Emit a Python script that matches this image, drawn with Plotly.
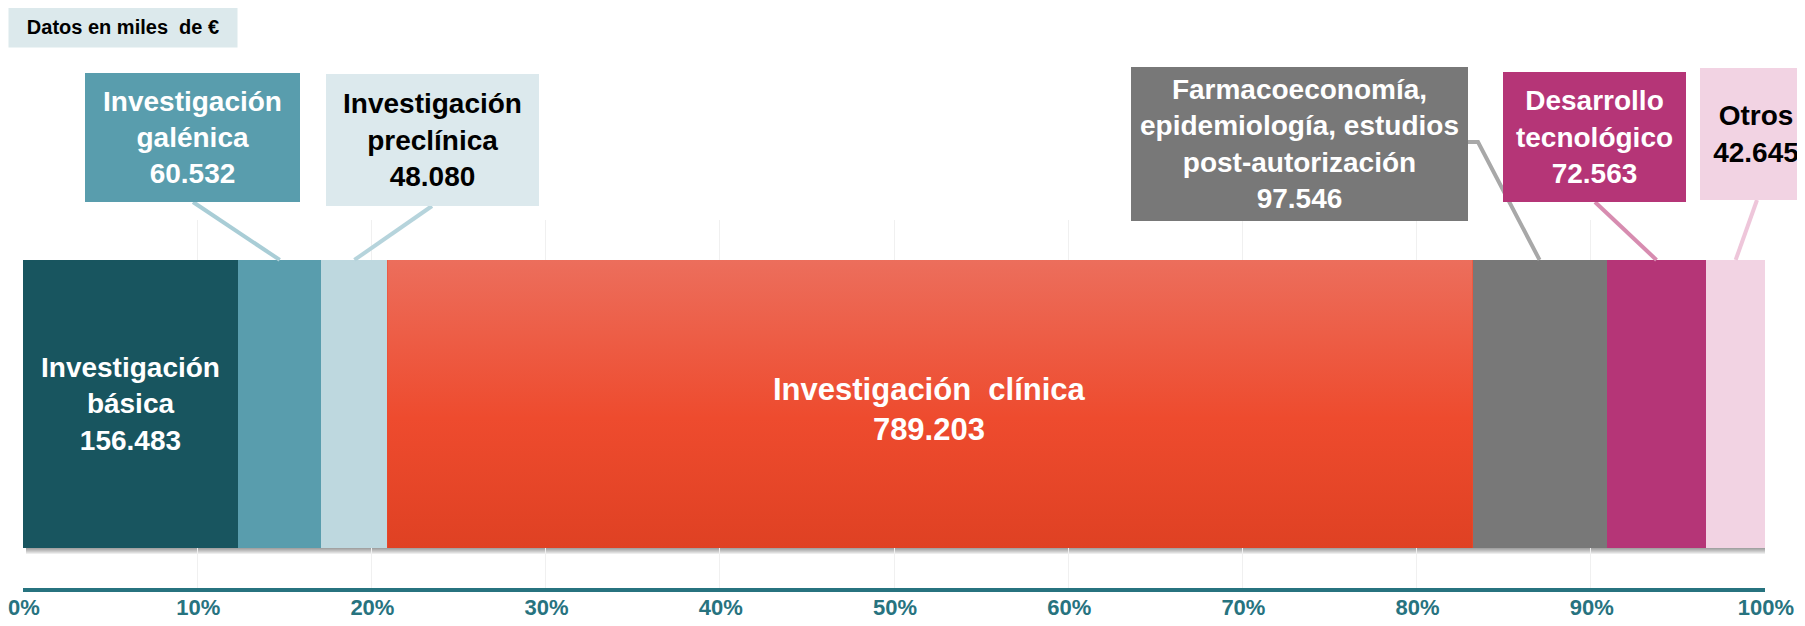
import plotly.graph_objects as go

# ---------------- data ----------------
categories = ["Investigación básica", "Investigación galénica", "Investigación preclínica",
              "Investigación clínica", "Farmacoeconomía, epidemiología, estudios post-autorización",
              "Desarrollo tecnológico", "Otros"]
values = [156483, 60532, 48080, 789203, 97546, 72563, 42645]
value_labels = ["156.483", "60.532", "48.080", "789.203", "97.546", "72.563", "42.645"]
label_lines = [["Investigación", "básica"],
               ["Investigación", "galénica"],
               ["Investigación", "preclínica"],
               ["Investigación\u00a0 clínica"],
               ["Farmacoeconomía,", "epidemiología, estudios", "post-autorización"],
               ["Desarrollo", "tecnológico"],
               ["Otros"]]
tick_vals = [0, 0.1, 0.2, 0.3, 0.4, 0.5, 0.6, 0.7, 0.8, 0.9, 1.0]
tick_text = ["0%", "10%", "20%", "30%", "40%", "50%", "60%", "70%", "80%", "90%", "100%"]

# ---------------- styles ----------------
colors = ["#18555F", "#599DAD", "#BED8DF", "#EB4A2D", "#787878", "#B53577", "#F2D3E3"]
line_colors = [None, "#A9CDD6", "#B6D4DC", None, "#A8A8A8", "#D78CB0", "#EEC6DA"]
box_colors = [None, "#599DAD", "#DCE9ED", None, "#787878", "#B53577", "#F2D3E3"]
text_colors = ["white", "white", "black", "white", "white", "white", "black"]
FONT = "Liberation Sans, Arial, sans-serif"
AXIS_COLOR = "#27737F"

# page (window) geometry; the page body has a default 8px margin
PAGE_W, PAGE_H = 1805, 626
OFF = 8
W, H = PAGE_W - OFF, PAGE_H - OFF
# plot area in page pixels
PX_L, PX_R, PX_T, PX_B = 23, 1765, 220, 588
ML, MR, MT, MB = PX_L - OFF, (W + OFF) - PX_R, PX_T - OFF, (H + OFF) - PX_B
PW = PX_R - PX_L
PH = PX_B - PX_T


def px_x(px):
    return (px - PX_L) / PW


def px_y(py):
    return (PX_B - py) / PH


total = sum(values)
shares = [v / total for v in values]
starts = []
acc = 0
for s in shares:
    starts.append(acc)
    acc += s
mids = [st + s / 2 for st, s in zip(starts, shares)]

BAR_Y = 0.5
BAR_W = 0.783
y_lo, y_hi = BAR_Y - BAR_W / 2, BAR_Y + BAR_W / 2

fig = go.Figure()
for i, cat in enumerate(categories):
    fig.add_trace(go.Bar(
        x=[shares[i]], y=[BAR_Y], base=[starts[i]], width=[BAR_W], orientation="h",
        marker=dict(color=colors[i], line=dict(width=0)), name=cat,
        hovertext=[f"{cat}: {value_labels[i]}"], hoverinfo="text", showlegend=False,
    ))

# gradient overlay for the clinical-research segment
ci = 3
fig.add_trace(go.Scatter(
    x=[starts[ci], starts[ci] + shares[ci], starts[ci] + shares[ci], starts[ci], starts[ci]],
    y=[y_lo, y_lo, y_hi, y_hi, y_lo],
    mode="lines", line=dict(width=0), fill="toself",
    fillgradient=dict(type="vertical",
                      colorscale=[[0, "#DF4123"], [0.45, "#EE4B2E"], [1, "#EC6E5C"]]),
    hoverinfo="skip", showlegend=False,
))

# drop shadow (styling)
shapes = []
for k in range(1, 7):
    shapes.append(dict(
        type="rect", xref="x", yref="y", layer="below",
        x0=starts[0] + 3 / PW, x1=1 + (k * 0.6) / PW,
        y0=y_lo - k / PH, y1=y_hi - 4 / PH,
        fillcolor="rgba(0,0,0,0.07)", line=dict(width=0),
    ))

annotations = []
# in-bar labels
for i, fs in [(0, 28), (3, 31)]:
    txt = "<br>".join(label_lines[i] + [value_labels[i]])
    annotations.append(dict(
        x=mids[i], y=BAR_Y - (0 if i == 0 else 0.015), xref="x", yref="y",
        text=f"<b>{txt}</b>", showarrow=False,
        font=dict(family=FONT, size=fs, color=text_colors[i]),
        align="center", xanchor="center", yanchor="middle",
    ))

# callout boxes (page pixels: x0, x1, y0, y1) and connector start points
boxes = {
    1: (85, 300, 73, 202),
    2: (326, 539, 74, 206),
    4: (1131, 1468, 67, 221),
    5: (1503, 1686, 72, 202),
    6: (1700, 1812, 68, 200),
}
connectors = {
    1: [(193, 202)],
    2: [(432, 206)],
    4: [(1468, 142), (1478, 142)],
    5: [(1595, 202)],
    6: [(1757, 200)],
}
for i, (bx0, bx1, by0, by1) in boxes.items():
    pts = connectors[i]
    path = "M " + " L ".join(f"{px_x(x):.5f},{px_y(y):.5f}" for x, y in pts)
    path += f" L {mids[i]:.5f},{y_hi:.5f}"
    shapes.append(dict(type="path", xref="x", yref="paper", path=path,
                       line=dict(color=line_colors[i], width=4), layer="above"))
    txt = "<br>".join(label_lines[i] + [value_labels[i]])
    annotations.append(dict(
        x=px_x((bx0 + bx1) / 2), y=px_y((by0 + by1) / 2), xref="paper", yref="paper",
        text=f"<b>{txt}</b>", showarrow=False,
        width=bx1 - bx0, height=by1 - by0, bgcolor=box_colors[i],
        borderpad=0, borderwidth=0,
        font=dict(family=FONT, size=28, color=text_colors[i]),
        align="center", valign="middle", xanchor="center", yanchor="middle",
    ))

# unit note
annotations.append(dict(
    x=px_x(123), y=px_y(27), xref="paper", yref="paper",
    text="<b>Datos en miles\u00a0 de €</b>", showarrow=False,
    width=228, height=40, bgcolor="#DCE9EC", borderpad=0,
    font=dict(family=FONT, size=20, color="black"),
    align="center", valign="middle", xanchor="center", yanchor="middle",
))

fig.update_layout(
    width=W, height=H,
    margin=dict(l=ML, r=MR, t=MT, b=MB, pad=0, autoexpand=False),
    paper_bgcolor="white", plot_bgcolor="white",
    barmode="overlay", bargap=0,
    shapes=shapes, annotations=annotations,
    xaxis=dict(range=[0, 1], tickvals=tick_vals, ticktext=tick_text,
               showgrid=True, gridcolor="#F0F0F0", gridwidth=1,
               zeroline=False, showline=True, linecolor=AXIS_COLOR, linewidth=4,
               ticks="", ticklabelstandoff=-3, ticklabelshift=1, ticklabeloverflow="allow",
               tickfont=dict(family=FONT, size=22, color=AXIS_COLOR, weight="bold"),
               automargin=False, fixedrange=True),
    yaxis=dict(range=[0, 1], visible=False, fixedrange=True, automargin=False),
    font=dict(family=FONT),
)

fig.write_html("out.html")
